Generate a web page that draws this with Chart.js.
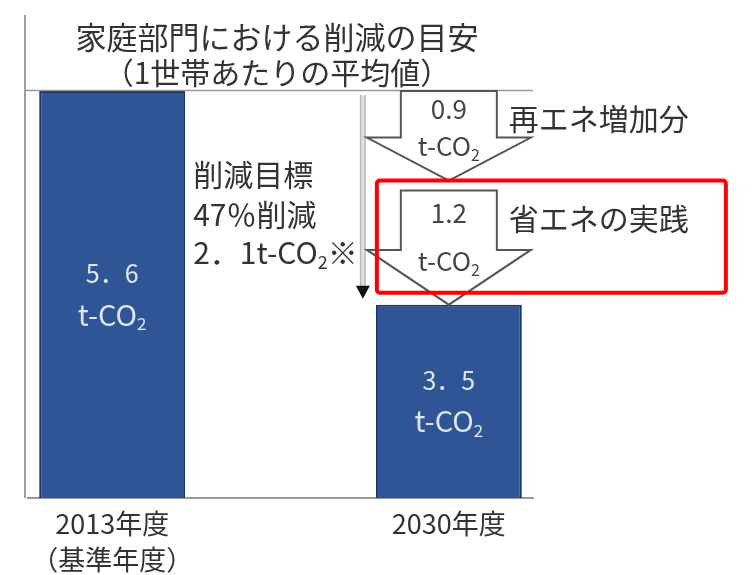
<!DOCTYPE html>
<html>
<head>
<meta charset="utf-8">
<script src="https://cdn.jsdelivr.net/npm/chart.js@4/dist/chart.umd.min.js"></script>
<style>
  html, body { margin: 0; padding: 0; background: #fff; }
  #wrap { width: 752px; height: 575px; }
</style>
</head>
<body>
<div id="wrap"><canvas id="c"></canvas></div>
<script>
// Household CO2 per year (t-CO2, average per household)
const categories = [["2013年度", "（基準年度）"], "", "2030年度"];
const emissions = [5.6, null, 3.5];
// Breakdown of the cut: renewable increase, energy-saving practice
const reductionSteps = [0.9, 1.2];
const stepLabels = ["再エネ増加分", "省エネの実践"];
const targetPercent = 47;
const titleLines = ["家庭部門における削減の目安", "（1世帯あたりの平均値）"];

const FONT = '"Noto Sans CJK JP", "Noto Sans", sans-serif';
const TEXT = '#333';

function fullWidth(v) { return v.toFixed(1).replace('.', '．'); }
function co2(prefix) { return [[prefix + 't-CO', false], ['2', true]]; }

// Draw text with subscript runs
function drawParts(ctx, parts, x, y, size, align, color) {
  const main = size + 'px ' + FONT;
  const sub = Math.round(size * 0.6) + 'px ' + FONT;
  let w = 0;
  parts.forEach(p => { ctx.font = p[1] ? sub : main; w += ctx.measureText(p[0]).width; });
  let cx = align === 'center' ? x - w / 2 : x;
  ctx.textAlign = 'left';
  ctx.textBaseline = 'middle';
  ctx.fillStyle = color;
  parts.forEach(p => {
    ctx.font = p[1] ? sub : main;
    ctx.fillText(p[0], cx, p[1] ? y + size * 0.32 : y);
    cx += ctx.measureText(p[0]).width;
  });
}

function blockArrow(ctx, cx, top, tip, shaftHalf, headHalf, headH) {
  const neck = tip - headH;
  ctx.beginPath();
  ctx.moveTo(cx - shaftHalf, top);
  ctx.lineTo(cx + shaftHalf, top);
  ctx.lineTo(cx + shaftHalf, neck);
  ctx.lineTo(cx + headHalf, neck);
  ctx.lineTo(cx, tip);
  ctx.lineTo(cx - headHalf, neck);
  ctx.lineTo(cx - shaftHalf, neck);
  ctx.closePath();
  ctx.fillStyle = '#fff';
  ctx.fill();
  ctx.strokeStyle = '#555';
  ctx.lineWidth = 2;
  ctx.stroke();
}

const annotations = {
  id: 'annotations',
  afterDatasetsDraw(chart) {
    const ctx = chart.ctx;
    const y = chart.scales.y;
    const area = chart.chartArea;
    const meta = chart.getDatasetMeta(0);
    const b0 = meta.data[0], b2 = meta.data[2];
    const base = emissions[0], target = emissions[2];
    ctx.save();

    // frame lines
    ctx.strokeStyle = '#a0a0a0';
    ctx.lineWidth = 2;
    ctx.beginPath();
    ctx.moveTo(25, 15); ctx.lineTo(25, area.bottom);
    ctx.stroke();
    ctx.strokeStyle = '#999';
    ctx.lineWidth = 1.5;
    ctx.beginPath();
    ctx.moveTo(25, y.getPixelForValue(base) - 0.5); ctx.lineTo(area.right, y.getPixelForValue(base) - 0.5);
    ctx.stroke();

    // title
    ctx.fillStyle = TEXT;
    ctx.textAlign = 'center';
    ctx.textBaseline = 'middle';
    ctx.font = '31px ' + FONT;
    ctx.fillText(titleLines[0], 277, 37);
    ctx.font = '30px ' + FONT;
    ctx.fillText(titleLines[1], 277, 73);

    // values inside bars
    [[b0, emissions[0]], [b2, emissions[2]]].forEach(([bar, v]) => {
      const mid = (y.getPixelForValue(v) + area.bottom) / 2;
      ctx.fillStyle = '#dfe7f5';
      ctx.font = '25px ' + FONT;
      ctx.textAlign = 'center';
      ctx.textBaseline = 'middle';
      ctx.fillText(fullWidth(v), bar.x, mid - 21);
      drawParts(ctx, co2(''), bar.x, mid + 20, 29, 'center', '#dfe7f5');
    });

    // total reduction arrow (gray, with black head)
    const vx = b2.x - b2.width / 2 - 13;
    const vTop = y.getPixelForValue(base) + 4;
    const vTip = y.getPixelForValue(target) - 6;
    ctx.strokeStyle = '#b8b8b8';
    ctx.lineWidth = 6;
    ctx.beginPath(); ctx.moveTo(vx, vTop); ctx.lineTo(vx, vTip - 10); ctx.stroke();
    ctx.strokeStyle = '#e2e2e2';
    ctx.lineWidth = 3;
    ctx.beginPath(); ctx.moveTo(vx, vTop); ctx.lineTo(vx, vTip - 10); ctx.stroke();
    ctx.fillStyle = '#111';
    ctx.beginPath();
    ctx.moveTo(vx - 7, vTip - 13); ctx.lineTo(vx + 7, vTip - 13); ctx.lineTo(vx, vTip);
    ctx.closePath(); ctx.fill();

    // target text
    const tx = b0.x + b0.width / 2 + 8;
    ctx.font = '30px ' + FONT;
    ctx.fillStyle = TEXT;
    ctx.textAlign = 'left';
    ctx.textBaseline = 'middle';
    ctx.fillText('削減目標', tx, 175);
    ctx.fillText(targetPercent + '％削減', tx, 215);
    drawParts(ctx, [[fullWidth(base - target), false], ['t-CO', false], ['2', true], ['※', false]], tx, 253, 30, 'left', TEXT);

    // breakdown arrows
    let level = base;
    const cx = b2.x;
    const boxes = [];
    reductionSteps.forEach((step, i) => {
      const top = y.getPixelForValue(level) + (i === 0 ? 0 : 8);
      const tip = y.getPixelForValue(level - step) - (i === 0 ? 2 : 0);
      const len = tip - top;
      blockArrow(ctx, cx, top, tip, 48, 82, len * 0.48);
      ctx.fillStyle = '#444';
      ctx.font = '26px ' + FONT;
      ctx.textAlign = 'center';
      ctx.textBaseline = 'middle';
      ctx.fillText(step.toFixed(1), cx, top + len * 0.2);
      drawParts(ctx, co2(''), cx, top + len * 0.62, 26, 'center', '#444');
      ctx.font = '30px ' + FONT;
      ctx.fillStyle = TEXT;
      ctx.textAlign = 'left';
      ctx.fillText(stepLabels[i], cx + 60, top + 28);
      boxes.push([top, tip]);
      level -= step;
    });

    // highlight around energy-saving step
    const hb = boxes[1];
    ctx.strokeStyle = '#ff0000';
    ctx.lineWidth = 4;
    ctx.beginPath();
    ctx.roundRect(b2.x - b2.width / 2 + 1, hb[0] - 10, 349, hb[1] - 12 - (hb[0] - 10), 3);
    ctx.stroke();

    ctx.restore();
  }
};

new Chart(document.getElementById('c'), {
  type: 'bar',
  data: {
    labels: categories,
    datasets: [{
      data: emissions,
      backgroundColor: '#2f5597',
      borderColor: '#1d3462',
      borderWidth: 2,
      borderSkipped: false,
      categoryPercentage: 1,
      barPercentage: 0.867
    }]
  },
  options: {
    responsive: true,
    maintainAspectRatio: false,
    animation: false,
    devicePixelRatio: 1,
    layout: { padding: { top: 91, left: 28, right: 219, bottom: 0 } },
    plugins: { legend: { display: false }, tooltip: { enabled: false }, title: { display: false } },
    scales: {
      x: {
        grid: { display: false, drawTicks: false },
        border: { display: true, color: '#999', width: 2 },
        ticks: {
          color: TEXT,
          padding: 8,
          maxRotation: 0,
          autoSkip: false,
          font: { family: FONT, size: 27, lineHeight: 1.33 }
        },
        afterFit(scale) { scale.height = 77; }
      },
      y: {
        display: false,
        min: 1.6,
        max: 5.6
      }
    }
  },
  plugins: [annotations]
});
</script>
</body>
</html>
